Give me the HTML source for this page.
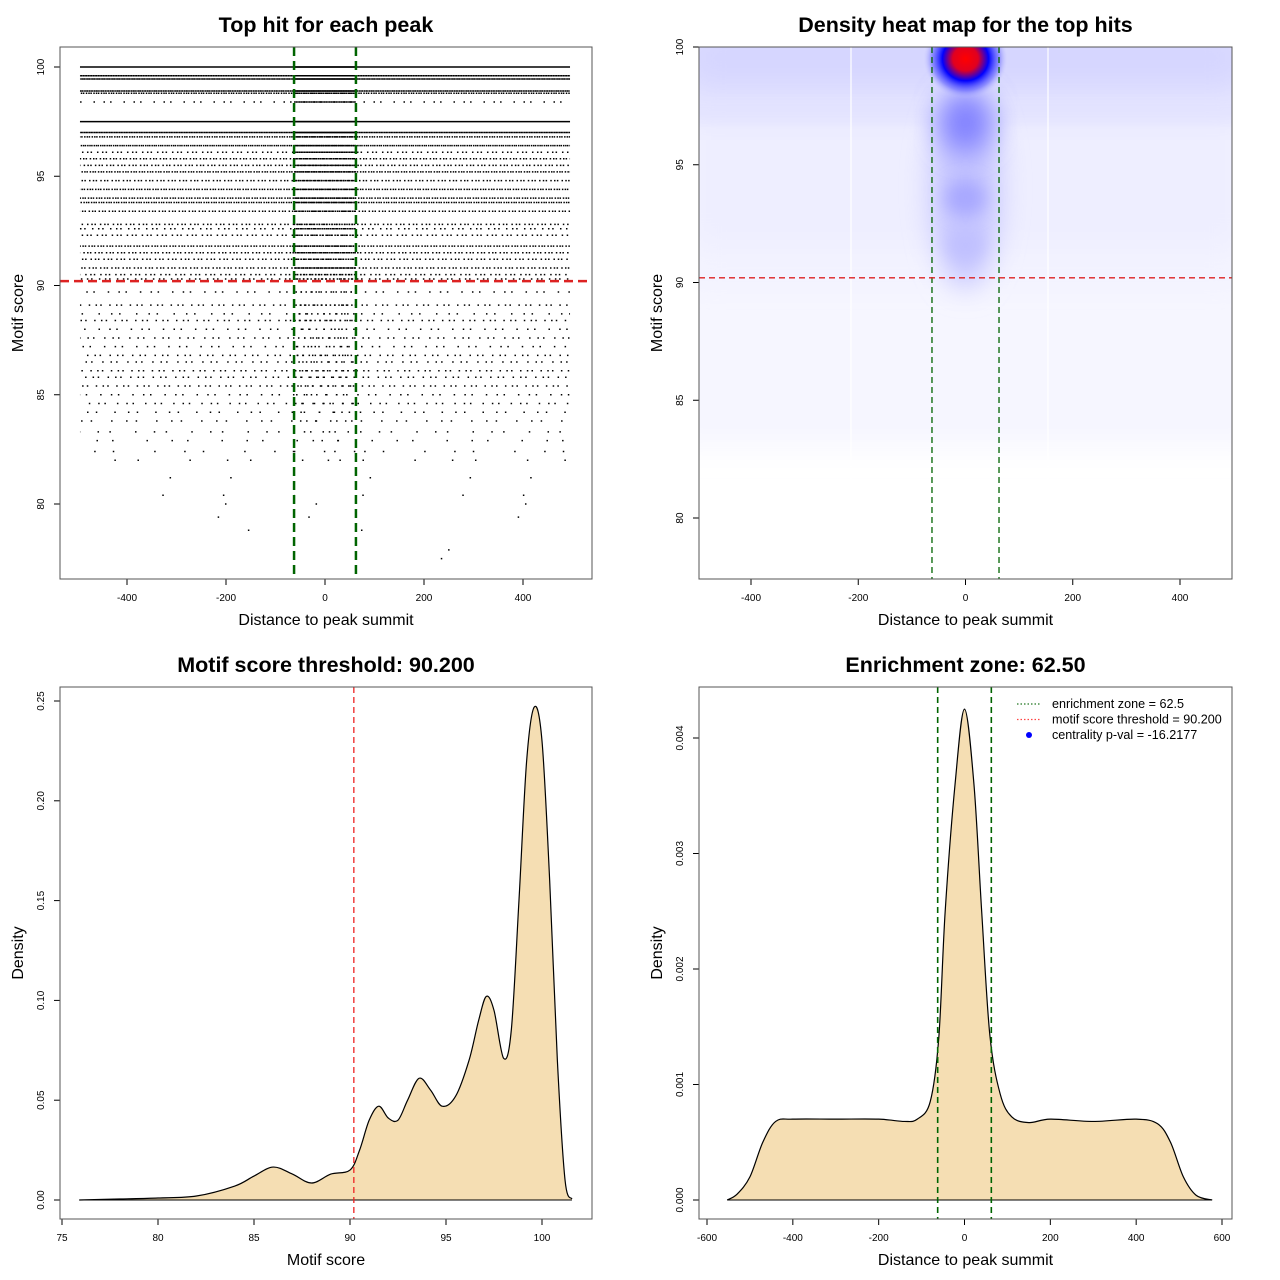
<!DOCTYPE html>
<html><head><meta charset="utf-8">
<style>
html,body{margin:0;padding:0;background:#fff;}
svg{display:block;font-family:"Liberation Sans",sans-serif;}
</style></head>
<body>
<svg id="root" width="1280" height="1280" viewBox="0 0 1280 1280" xmlns="http://www.w3.org/2000/svg">
<defs>
  <filter id="blur8" x="-50%" y="-50%" width="200%" height="200%"><feGaussianBlur stdDeviation="8"/></filter>
  <filter id="blur14" x="-50%" y="-50%" width="200%" height="200%"><feGaussianBlur stdDeviation="14"/></filter>
  <filter id="blur24" x="-50%" y="-50%" width="200%" height="200%"><feGaussianBlur stdDeviation="24"/></filter>
  <radialGradient id="blob" cx="0.5" cy="0.5" r="0.5">
    <stop offset="0" stop-color="#ff0000"/>
    <stop offset="0.3" stop-color="#e00020"/>
    <stop offset="0.55" stop-color="#0000ff"/>
    <stop offset="0.8" stop-color="#6060ff" stop-opacity="0.6"/>
    <stop offset="1" stop-color="#c0c0ff" stop-opacity="0"/>
  </radialGradient>
  <clipPath id="clip1"><rect x="60" y="47" width="532" height="532"/></clipPath>
  <clipPath id="clip2"><rect x="699" y="47" width="533" height="532"/></clipPath>
</defs>
<g id="p1"></g>
<g id="p2"></g>
<g id="p3"></g>
<g id="p4"></g>
</svg>
<script>
// ---------- data ----------
const rowScores   = [100,99.6,99.45,98.9,98.8,98.4,97.5,97.0,96.8,96.4,96.1,95.8,95.5,95.2,94.8,94.4,94.0,93.8,93.4,92.8,92.6,92.3,91.8,91.5,91.2,90.8,90.5,90.3,89.7,89.1,88.7,88.4,88.0,87.6,87.2,86.8,86.5,86.1,85.8,85.4,85.0,84.6,84.2,83.8,83.3,82.9,82.4,82.0,81.2,80.4,80.0,79.4,78.8,77.9,77.5];
const rowDensity  = [1,0.9,0.9,0.85,0.6,0.15,1,0.9,0.6,0.7,0.3,0.45,0.4,0.55,0.4,0.55,0.55,0.6,0.45,0.35,0.25,0.3,0.5,0.4,0.35,0.4,0.3,0.25,0.14,0.22,0.12,0.22,0.14,0.18,0.14,0.2,0.18,0.22,0.2,0.22,0.14,0.16,0.11,0.1,0.08,0.06,0.05,0.04,0.015,0.015,0.01,0.01,0.008,0.004,0.004];
const rowCenter   = [1,1,1,1,0.8,0.9,1,1,0.8,0.9,0.9,0.8,0.9,0.8,0.8,0.8,0.8,0.8,0.7,0.6,0.8,0.5,0.7,0.8,0.6,0.8,0.5,0.4,0.3,0.35,0.25,0.3,0.2,0.25,0.2,0.25,0.2,0.25,0.2,0.2,0.15,0.15,0.1,0.1,0.08,0.06,0.05,0.04,0.02,0.02,0.01,0.01,0.01,0.01,0.01];
const enrichZone = 62.5;
const scoreThreshold = 90.2;
const scoreX = [75.9,78,80,82,84,85,86,87,88,89,90,90.5,91,91.5,92,92.5,93,93.6,94.2,94.8,95.5,96.2,96.7,97.1,97.5,98,98.4,98.8,99.2,99.6,100,100.4,100.8,101.2,101.56];
const scoreDens = [0,0.0005,0.001,0.002,0.007,0.012,0.0165,0.013,0.0085,0.013,0.015,0.025,0.04,0.047,0.041,0.04,0.05,0.061,0.055,0.047,0.052,0.07,0.09,0.102,0.095,0.071,0.085,0.15,0.22,0.247,0.23,0.16,0.07,0.01,0.0005];
const distX = [-553,-530,-500,-470,-440,-400,-300,-200,-140,-110,-80,-60,-45,-22,0,22,40,59,83,110,150,200,300,400,450,480,510,540,577];
const distDens = [0,0.00005,0.0002,0.0005,0.00068,0.0007,0.0007,0.0007,0.00068,0.0007,0.00085,0.0014,0.0025,0.0036,0.00425,0.0036,0.0025,0.00143,0.00092,0.00072,0.00067,0.0007,0.00068,0.0007,0.00066,0.0005,0.0002,0.00004,0];
const p1XTicks=[-400,-200,0,200,400], p1YTicks=[80,85,90,95,100];
const p2XTicks=[-400,-200,0,200,400], p2YTicks=[80,85,90,95,100];
const p3XTicks=[75,80,85,90,95,100], p3YTicks=[0,0.05,0.10,0.15,0.20,0.25], p3YLabels=["0.00","0.05","0.10","0.15","0.20","0.25"];
const p4XTicks=[-600,-400,-200,0,200,400,600], p4YTicks=[0,0.001,0.002,0.003,0.004], p4YLabels=["0.000","0.001","0.002","0.003","0.004"];

const NS="http://www.w3.org/2000/svg";
function mk(parent,tag,attrs,text){const e=document.createElementNS(NS,tag);for(const k in attrs)e.setAttribute(k,attrs[k]);if(text!==undefined)e.textContent=text;parent.appendChild(e);return e;}
function lin(d0,d1,r0,r1){return v=>r0+(v-d0)*(r1-r0)/(d1-d0);}
function frame(g,box,title,xl,yl,xs,ys,xt,yt,ytl){
  let t=mk(g,'text',{x:(box.x0+box.x1)/2,y:box.y0-15,'text-anchor':'middle','font-size':21.5,'font-weight':'bold'},title);
  
  
  let a=mk(g,'text',{x:(box.x0+box.x1)/2,y:box.y1+46,'text-anchor':'middle','font-size':16},xl);
  
  
  let b=mk(g,'text',{x:0,y:0,'text-anchor':'middle','font-size':16,transform:`translate(${box.x0-37},${(box.y0+box.y1)/2}) rotate(-90)`},yl);
  
  
  xt.forEach(v=>{const x=xs(v);mk(g,'line',{x1:x,x2:x,y1:box.y1,y2:box.y1+6,stroke:'#000'});
    let l=mk(g,'text',{x:x,y:box.y1+22,'text-anchor':'middle','font-size':10},String(v));
    
    });
  mk(g,'line',{x1:xs(xt[0]),x2:xs(xt[xt.length-1]),y1:box.y1,y2:box.y1,stroke:'#000'});
  yt.forEach((v,i)=>{const y=ys(v);mk(g,'line',{x1:box.x0,x2:box.x0-6,y1:y,y2:y,stroke:'#000'});
    let l=mk(g,'text',{x:0,y:0,'text-anchor':'middle','font-size':10,transform:`translate(${box.x0-16},${y}) rotate(-90)`},ytl?ytl[i]:String(v));
    
    });
  mk(g,'line',{x1:box.x0,x2:box.x0,y1:ys(yt[0]),y2:ys(yt[yt.length-1]),stroke:'#000'});
  let r=mk(g,'rect',{x:box.x0,y:box.y0,width:box.x1-box.x0,height:box.y1-box.y0,fill:'none',stroke:'#555'});
  
  
}
function smoothPath(pts){let d=`M${pts[0][0]},${pts[0][1]}`;
  for(let i=0;i<pts.length-1;i++){const p0=pts[Math.max(0,i-1)],p1=pts[i],p2=pts[i+1],p3=pts[Math.min(pts.length-1,i+2)];
    const c1=[p1[0]+(p2[0]-p0[0])/6,p1[1]+(p2[1]-p0[1])/6],c2=[p2[0]-(p3[0]-p1[0])/6,p2[1]-(p3[1]-p1[1])/6];
    d+=` C${c1[0]},${c1[1]} ${c2[0]},${c2[1]} ${p2[0]},${p2[1]}`;}return d;}

// ---------- panel 1: scatter ----------
(function(){
  const g=document.getElementById('p1');
  const box={x0:60,x1:592,y0:47,y1:579};
  const xs=lin(0,400,325,523), ys=lin(100,80,67,504);
  const pts=mk(g,'g',{'clip-path':'url(#clip1)'});
  
  
  rowScores.forEach((s,i)=>{
    const y=ys(s), d=rowDensity[i], gap=Math.max(0,1.5/d-1.5);
    const l=mk(pts,'line',{x1:xs(-495),x2:xs(495),y1:y,y2:y,stroke:'#000','stroke-width':1.5,'stroke-dasharray':gap>0?`1.5 ${gap.toFixed(2)} 1.5 ${(gap*0.6).toFixed(2)} 1.5 ${(gap*1.4).toFixed(2)}`:'none','stroke-dashoffset':(i*7.3)%20});
    
    
    const c=rowCenter[i], cg=Math.max(0,1.5/c-1.5);
    const l2=mk(pts,'line',{x1:xs(-enrichZone),x2:xs(enrichZone),y1:y,y2:y,stroke:'#000','stroke-width':1.5,'stroke-dasharray':cg>0?`1.5 ${cg.toFixed(2)}`:'none','stroke-dashoffset':(i*3.7)%10});
    
    
  });
  [-enrichZone,enrichZone].forEach(v=>{const l=mk(g,'line',{x1:xs(v),x2:xs(v),y1:box.y0,y2:box.y1,stroke:'#006400','stroke-width':2.5,'stroke-dasharray':'9 5'});
    
    });
  const h=mk(g,'line',{x1:box.x0,x2:box.x1,y1:ys(scoreThreshold),y2:ys(scoreThreshold),stroke:'#dd2222','stroke-width':2.5,'stroke-dasharray':'9 5'});
  
  
  frame(g,box,'Top hit for each peak','Distance to peak summit','Motif score',xs,ys,p1XTicks,p1YTicks);
})();

// ---------- panel 2: heatmap ----------
(function(){
  const g=document.getElementById('p2');
  const box={x0:699,x1:1232,y0:47,y1:579};
  const xs=lin(0,400,965.5,1180), ys=lin(100,80,47,518);
  const hm=mk(g,'g',{'clip-path':'url(#clip2)'});
  
  
  mk(hm,'rect',{x:box.x0-30,y:ys(91),width:593,height:ys(83)-ys(91),fill:'#f6f6ff',filter:'url(#blur14)'});
  mk(hm,'rect',{x:box.x0-30,y:box.y0-30,width:593,height:ys(90.5)-box.y0+30,fill:'#eeeeff',filter:'url(#blur24)'});
  mk(hm,'rect',{x:box.x0-30,y:box.y0-30,width:593,height:ys(97.8)-box.y0+30,fill:'#d4d4ff',filter:'url(#blur24)'});
  mk(hm,'rect',{x:box.x0-30,y:ys(97.3)-8,width:593,height:16,fill:'#e2e2ff',filter:'url(#blur8)'});
  mk(hm,'ellipse',{cx:xs(0),cy:ys(94),rx:34,ry:100,fill:'#c4c4ff',filter:'url(#blur14)'});
  mk(hm,'ellipse',{cx:xs(0),cy:ys(96.8),rx:26,ry:30,fill:'#8080ff',filter:'url(#blur14)'});
  mk(hm,'ellipse',{cx:xs(0),cy:ys(93.6),rx:20,ry:18,fill:'#a8a8ff',filter:'url(#blur8)'});
  mk(hm,'ellipse',{cx:xs(0),cy:ys(91.6),rx:18,ry:14,fill:'#c0c0ff',filter:'url(#blur8)'});
  mk(hm,'ellipse',{cx:xs(0),cy:ys(99.5),rx:42,ry:40,fill:'url(#blob)'});
  [851,1048].forEach(x=>mk(hm,'line',{x1:x,x2:x,y1:box.y0,y2:box.y1,stroke:'#fff','stroke-width':1.2}));
  [-enrichZone,enrichZone].forEach(v=>{const l=mk(g,'line',{x1:xs(v),x2:xs(v),y1:box.y0,y2:box.y1,stroke:'#006400','stroke-width':1.3,'stroke-dasharray':'6 4'});
    
    });
  const h=mk(g,'line',{x1:box.x0,x2:box.x1,y1:ys(scoreThreshold),y2:ys(scoreThreshold),stroke:'#dd2222','stroke-width':1.3,'stroke-dasharray':'6 4'});
  
  
  frame(g,box,'Density heat map for the top hits','Distance to peak summit','Motif score',xs,ys,p2XTicks,p2YTicks);
})();

// ---------- panel 3: score density ----------
(function(){
  const g=document.getElementById('p3');
  const box={x0:60,x1:592,y0:687,y1:1219};
  const xs=lin(75,100,62,542), ys=lin(0,0.25,1200,701);
  const pts=scoreX.map((x,i)=>[xs(x),ys(scoreDens[i])]);
  const d=smoothPath(pts);
  const a=mk(g,'path',{d:d+` L${xs(scoreX[scoreX.length-1])},${ys(0)} L${xs(scoreX[0])},${ys(0)} Z`,fill:'#f5deb3',stroke:'none'});
  
  
  const c=mk(g,'path',{d:d,fill:'none',stroke:'#000','stroke-width':1.2});
  
  
  mk(g,'line',{x1:xs(scoreX[0]),x2:xs(scoreX[scoreX.length-1]),y1:ys(0),y2:ys(0),stroke:'#000','stroke-width':1});
  const v=mk(g,'line',{x1:xs(scoreThreshold),x2:xs(scoreThreshold),y1:box.y0,y2:box.y1,stroke:'#ee2222','stroke-width':1.3,'stroke-dasharray':'6 4'});
  
  
  frame(g,box,'Motif score threshold: 90.200','Motif score','Density',xs,ys,p3XTicks,p3YTicks,p3YLabels);
})();

// ---------- panel 4: distance density ----------
(function(){
  const g=document.getElementById('p4');
  const box={x0:699,x1:1232,y0:687,y1:1219};
  const xs=lin(-600,600,707,1222), ys=lin(0,0.004,1200,738);
  const pts=distX.map((x,i)=>[xs(x),ys(distDens[i])]);
  const d=smoothPath(pts);
  const a=mk(g,'path',{d:d+` L${xs(distX[distX.length-1])},${ys(0)} L${xs(distX[0])},${ys(0)} Z`,fill:'#f5deb3',stroke:'none'});
  
  
  const c=mk(g,'path',{d:d,fill:'none',stroke:'#000','stroke-width':1.2});
  
  
  mk(g,'line',{x1:xs(distX[0]),x2:xs(distX[distX.length-1]),y1:ys(0),y2:ys(0),stroke:'#000'});
  [-enrichZone,enrichZone].forEach(v=>{const l=mk(g,'line',{x1:xs(v),x2:xs(v),y1:box.y0,y2:box.y1,stroke:'#006400','stroke-width':1.6,'stroke-dasharray':'6 4'});
    
    });
  const lg=mk(g,'g',{});
  
  
  const items=[['enrichment zone = 62.5','#227722','line'],['motif score threshold = 90.200','#ff4444','line'],['centrality p-val = -16.2177','#0000ff','dot']];
  items.forEach((it,i)=>{const y=704+i*15.5;
    const e=mk(lg,'g',{});
    
    
    if(it[2]==='line')mk(e,'line',{x1:1017,x2:1041,y1:y,y2:y,stroke:it[1],'stroke-width':1.2,'stroke-dasharray':'1.5 2'});
    else mk(e,'circle',{cx:1029,cy:y,r:3,fill:it[1]});
    mk(e,'text',{x:1052,y:y+4,'font-size':12.6},it[0]);});
  frame(g,box,'Enrichment zone: 62.50','Distance to peak summit','Density',xs,ys,p4XTicks,p4YTicks,p4YLabels);
})();
</script>
</body></html>
